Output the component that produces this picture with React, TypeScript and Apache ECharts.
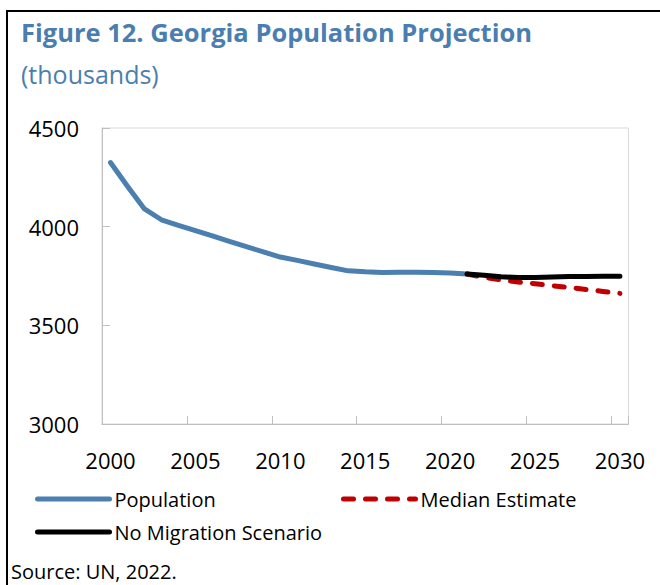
import React, { useEffect, useRef } from "react";
import * as echarts from "echarts";

const years = [
  "2000", "2001", "2002", "2003", "2004", "2005", "2006", "2007", "2008", "2009",
  "2010", "2011", "2012", "2013", "2014", "2015", "2016", "2017", "2018", "2019",
  "2020", "2021", "2022", "2023", "2024", "2025", "2026", "2027", "2028", "2029", "2030",
];

// 2000–2021
const population = [
  4325, 4205, 4090, 4035, 4007, 3980, 3953, 3926, 3899, 3872,
  3846, 3829, 3811, 3793, 3776, 3771, 3768, 3769, 3769, 3768,
  3765, 3760,
];

// 2021–2030
const medianEstimate = [3760, 3743, 3731, 3720, 3711, 3701, 3692, 3682, 3672, 3662];
const noMigration = [3760, 3754, 3746, 3742, 3743, 3745, 3747, 3748, 3749, 3749];

const projectionStart = "2021";

const yMin = 3000;
const yMax = 4500;
const yStep = 500;

const FONT = "'Open Sans', 'Noto Sans', sans-serif";

function pad(values: number[], startYear: string): (number | null)[] {
  const startIdx = years.indexOf(startYear);
  return years.map((_, i) => {
    const j = i - startIdx;
    return j >= 0 && j < values.length ? values[j] : null;
  });
}

export default function App() {
  const ref = useRef<HTMLDivElement | null>(null);

  useEffect(() => {
    if (!ref.current) return;
    const chart = echarts.init(ref.current, undefined, { renderer: "svg" });
    const legendCommon = {
      orient: "vertical",
      top: 489,
      padding: 0,
      itemWidth: 72,
      itemHeight: 20,
      itemGap: 13,
      itemStyle: { opacity: 0 },
      lineStyle: { width: 5, cap: "round" },
      textStyle: { fontFamily: FONT, fontSize: 20, color: "#000000", lineHeight: 20 },
    };
    const option: any = {
      animation: false,
      backgroundColor: "transparent",
      textStyle: { fontFamily: FONT },
      title: [
        {
          text: "Figure 12. Georgia Population Projection",
          left: 21,
          top: 19,
          padding: 0,
          textStyle: { fontFamily: FONT, fontWeight: "bold", fontSize: 25.5, color: "#4a7eb0" },
        },
        {
          text: "(thousands)",
          left: 21,
          top: 61,
          padding: 0,
          textStyle: { fontFamily: FONT, fontWeight: "normal", fontSize: 25, color: "#4a7eb0" },
        },
        {
          text: "Source: UN, 2022.",
          left: 11,
          top: 561,
          padding: 0,
          textStyle: { fontFamily: FONT, fontWeight: "normal", fontSize: 20, color: "#000000" },
        },
      ],
      grid: {
        left: 102,
        right: 15,
        top: 128,
        bottom: 161,
        show: true,
        borderColor: "#d9d9d9",
        borderWidth: 1,
        containLabel: false,
      },
      legend: [
        { ...legendCommon, data: ["Population", "No Migration Scenario"], left: 35 },
        { ...legendCommon, data: ["Median Estimate"], left: 341 },
      ],
      xAxis: {
        type: "category",
        data: years,
        boundaryGap: true,
        axisLine: { show: true, lineStyle: { color: "#bfbfbf", width: 1 } },
        axisTick: { show: true, inside: true, length: 8, interval: 4, lineStyle: { color: "#bfbfbf" } },
        axisLabel: { interval: 4, margin: 25, fontFamily: FONT, fontSize: 22, color: "#000000" },
        splitLine: { show: false },
      },
      yAxis: {
        type: "value",
        min: yMin,
        max: yMax,
        interval: yStep,
        axisLine: { show: true, lineStyle: { color: "#bfbfbf", width: 1 } },
        axisTick: { show: true, inside: true, length: 8, lineStyle: { color: "#bfbfbf" } },
        axisLabel: {
          margin: 23,
          fontFamily: FONT,
          fontSize: 22,
          color: "#000000",
          formatter: (v: number) => String(v),
        },
        splitLine: { show: false },
      },
      series: [
        {
          name: "Population",
          type: "line",
          data: pad(population, "2000"),
          symbol: "none",
          connectNulls: false,
          lineStyle: { color: "#4a7fb0", width: 5, cap: "round", join: "round" },
          itemStyle: { color: "#4a7fb0" },
          z: 2,
        },
        {
          name: "Median Estimate",
          type: "line",
          data: pad(medianEstimate, projectionStart),
          symbol: "none",
          lineStyle: { color: "#c00000", width: 5, type: [10, 12], cap: "round", join: "round" },
          itemStyle: { color: "#c00000" },
          z: 3,
        },
        {
          name: "No Migration Scenario",
          type: "line",
          data: pad(noMigration, projectionStart),
          symbol: "none",
          lineStyle: { color: "#000000", width: 5, cap: "round", join: "round" },
          itemStyle: { color: "#000000" },
          z: 4,
        },
      ],
    };
    chart.setOption(option);
    return () => {
      chart.dispose();
    };
  }, []);

  return (
    <div
      style={{
        position: "absolute",
        left: 0,
        top: 0,
        width: 660,
        height: 585,
        overflow: "hidden",
        background: "#ffffff",
      }}
    >
      <div
        style={{
          position: "absolute",
          left: 6,
          top: 10,
          width: 700,
          height: 700,
          borderLeft: "2px solid #000000",
          borderTop: "2px solid #000000",
          boxSizing: "border-box",
        }}
      />
      <div ref={ref} style={{ position: "absolute", left: 0, top: 0, width: 648, height: 585 }} />
    </div>
  );
}
